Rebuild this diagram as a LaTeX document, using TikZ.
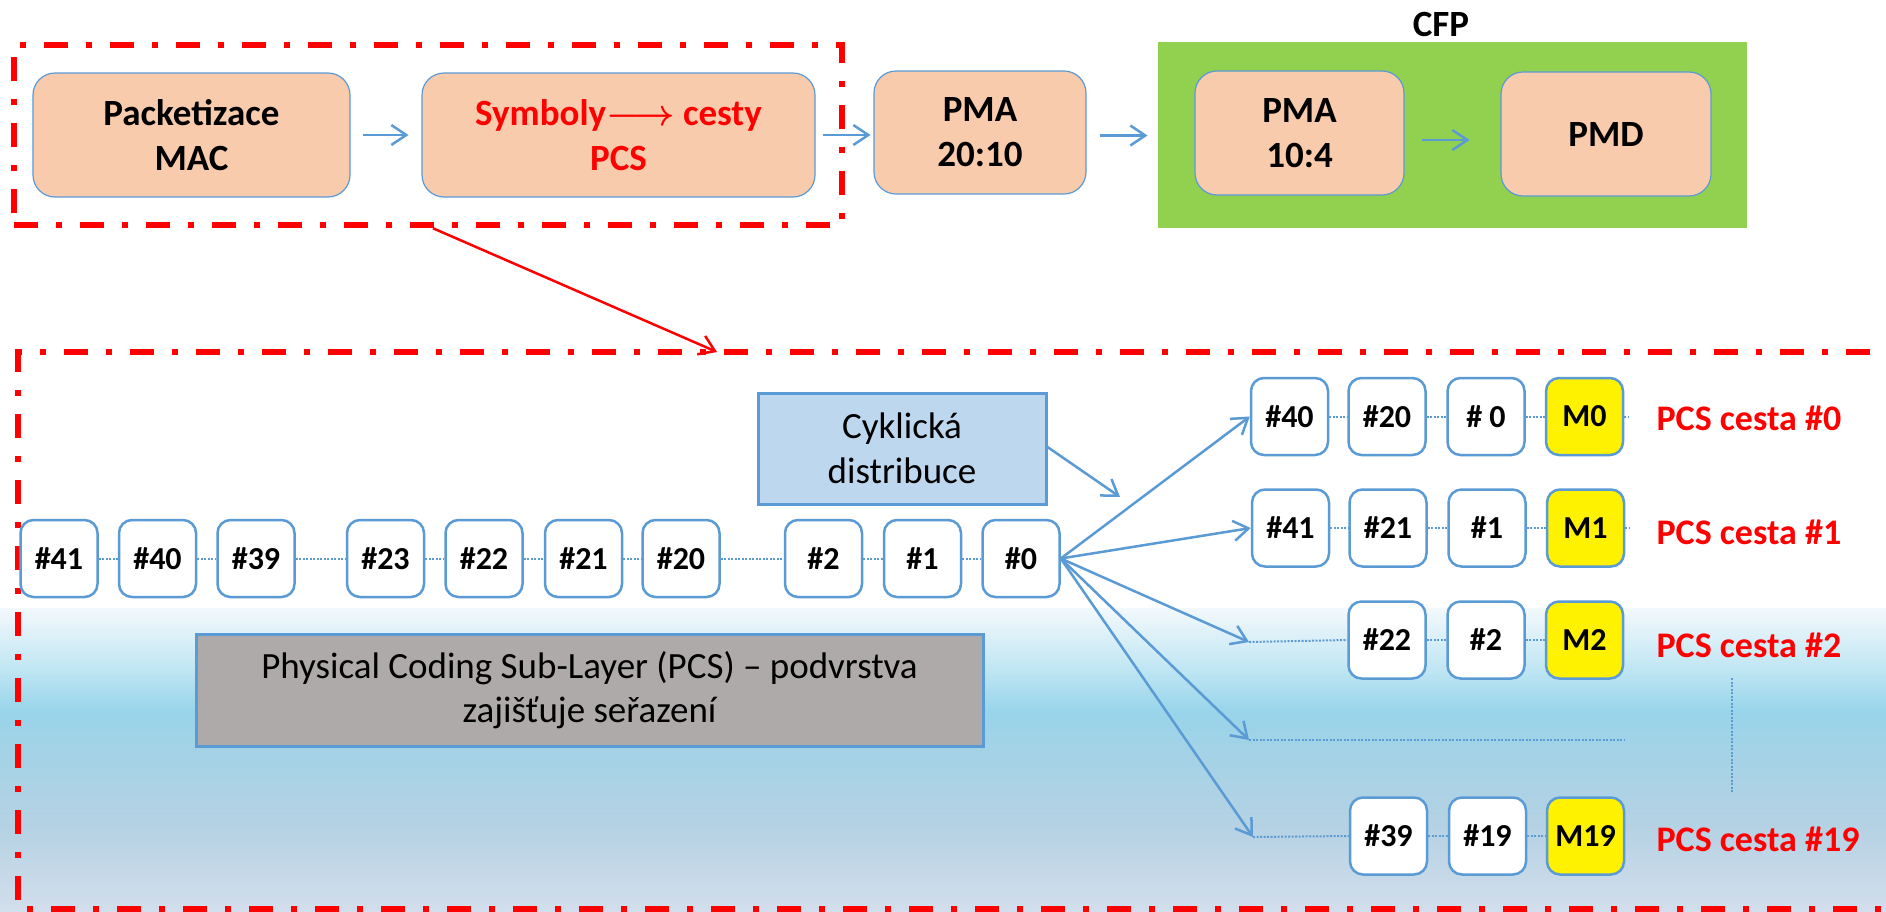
\RequirePackage{fix-cm}
\documentclass[tikz,border=0pt]{standalone}
\usepackage{fontspec}
\setmainfont{Carlito}
\usetikzlibrary{arrows.meta}
\definecolor{boxblue}{RGB}{91,155,213}
\definecolor{peach}{RGB}{248,203,173}
\definecolor{cfpgreen}{RGB}{146,208,80}
\definecolor{cykblue}{RGB}{189,215,238}
\definecolor{pcsgray}{RGB}{174,170,170}
\definecolor{seaA}{RGB}{242,249,252}
\definecolor{seaB}{RGB}{226,242,249}
\definecolor{seaC}{RGB}{192,230,243}
\definecolor{seaD}{RGB}{152,212,234}
\definecolor{seaE}{RGB}{166,210,230}
\definecolor{seaF}{RGB}{182,210,228}
\definecolor{seaG}{RGB}{210,222,235}
\pgfdeclareverticalshading{sea}{100bp}{color(0bp)=(seaG); color(25bp)=(seaG); color(38.5bp)=(seaF); color(50bp)=(seaE); color(58bp)=(seaD); color(65bp)=(seaC); color(71.5bp)=(seaB); color(75bp)=(seaA); color(100bp)=(seaA)}
\tikzset{
  flow/.style={draw=boxblue, line width=2.5pt, -{Straight Barb[length=15pt,width=20pt]}},
  redarrow/.style={draw=red, line width=2.5pt, -{Straight Barb[length=15pt,width=20pt]}},
  reddash/.style={draw=red, line width=6.5pt, dash pattern=on 24pt off 18pt on 6pt off 18pt},
  dotl/.style={draw=boxblue, line width=2pt, dash pattern=on 2pt off 1.5pt},
  pbox/.style={draw=boxblue, line width=1.2pt, fill=peach, rounded corners=22pt,
    font=\bfseries\fontsize{37}{45}\selectfont, align=center, inner sep=0pt, minimum height=124pt},
  sbox/.style={draw=boxblue, line width=2.5pt, fill=white, rounded corners=13pt,
    minimum width=77pt, minimum height=77pt, inner sep=0pt, font=\bfseries\fontsize{32}{36}\selectfont},
  mbox/.style={sbox, fill=yellow},
  lbl/.style={anchor=west, text=red, font=\bfseries\fontsize{36}{40}\selectfont},
}
\begin{document}
\begin{tikzpicture}[x=1pt, y=-1pt]
\useasboundingbox (0,0) rectangle (1886,911);
\fill[white] (0,0) rectangle (1886,911);
\begin{scope}[y=1pt]
  \shade[shading=sea] (0,-911) rectangle (1886,-608);
\end{scope}

% ---------- top row ----------
\node[fill=cfpgreen, minimum width=589pt, minimum height=186pt, inner sep=0pt] (cfp) at (1452.5,135) {};
\node[font=\bfseries\fontsize{37}{40}\selectfont] (cfplbl) at (1441,24) {CFP};
\node[pbox, minimum width=317pt] (mac) at (191.5,135) {Packetizace\\MAC};
\node[pbox, minimum width=393pt, text=red] (pcs) at (618.5,135) {Symboly{\boldmath$\longrightarrow$} cesty\\PCS};
\node[pbox, minimum width=212pt, minimum height=123pt] (pma1) at (980,132.5) {PMA\\20:10};
\node[pbox, minimum width=209pt] (pma2) at (1299.5,133) {PMA\\10:4};
\node[pbox, minimum width=210pt] (pmd) at (1606,134) {PMD};
\node[reddash, minimum width=828pt, minimum height=180pt, inner sep=0pt] (sel) at (428,135) {};

\draw[flow] ([xshift=12pt]mac.east) -- ++(46,0);
\draw[flow] ([xshift=7pt]pcs.east) -- ++(48,0);
\draw[flow] ([shift={(13,3)}]pma1.east) -- ++(48,0);
\draw[flow] ([shift={(17,7)}]pma2.east) -- ++(48,0);

% ---------- lower frame ----------
\coordinate (lowtop) at (717,352);
\draw[reddash] (1870,352) -- (18,352) -- (18,909) -- (1886,909);
\draw[redarrow] ([xshift=5pt]sel.south) -- (lowtop);

% ---------- info boxes ----------
\node[draw=boxblue, line width=3pt, fill=cykblue, minimum width=288pt, minimum height=111pt,
  inner sep=0pt, align=center, font=\fontsize{37}{45}\selectfont] (cyk) at (902,448.5) {Cyklická\\distribuce};
\coordinate (cykend) at (1120,497);
\draw[flow] ([yshift=1.5pt]cyk.east) -- (cykend);

\node[draw=boxblue, line width=3pt, fill=pcsgray, minimum width=787pt, minimum height=112pt,
  inner sep=0pt, align=center, font=\fontsize{37}{44}\selectfont] (pcsl) at (589.5,690)
  {Physical Coding Sub-Layer (PCS) – podvrstva\\zajišťuje seřazení};

% ---------- input symbol stream ----------
\foreach \n/\x in {41/59, 40/157.5, 39/256, 23/385.5, 22/484, 21/583.5, 20/681, 2/823.5, 1/922.5, 0/1021}
  \node[sbox] (b\n) at (\x,558.5) {\#\n};
\foreach \a/\b in {41/40, 40/39, 39/23, 23/22, 22/21, 21/20, 20/2, 2/1, 1/0}
  \draw[dotl] (b\a.east) -- (b\b.west);

% ---------- PCS lanes ----------
\node[sbox] (r0a) at (1289.5,416.5) {\#40};
\node[sbox] (r0b) at (1387,416.5) {\#20};
\node[sbox] (r0c) at (1486,416.5) {\# 0};
\node[mbox] (r0m) at (1584.5,416.5) {M0};
\node[sbox] (r1a) at (1290.5,528) {\#41};
\node[sbox] (r1b) at (1388,528) {\#21};
\node[sbox] (r1c) at (1487,528) {\#1};
\node[mbox] (r1m) at (1585.5,528) {M1};
\node[sbox] (r2b) at (1387,640) {\#22};
\node[sbox] (r2c) at (1486,640) {\#2};
\node[mbox] (r2m) at (1584.5,640) {M2};
\node[sbox] (r19b) at (1388.5,836) {\#39};
\node[sbox] (r19c) at (1487.5,836) {\#19};
\node[mbox] (r19m) at (1585.5,836) {M19};

\node[lbl] (l0) at (1653,418) {PCS cesta \#0};
\node[lbl] (l1) at (1653,532) {PCS cesta \#1};
\node[lbl] (l2) at (1653,645) {PCS cesta \#2};
\node[lbl] (l19) at (1653,839) {PCS cesta \#19};

\foreach \r in {0,1} {
  \draw[dotl] (r\r a.east) -- (r\r b.west);
  \draw[dotl] (r\r b.east) -- (r\r c.west);
  \draw[dotl] (r\r c.east) -- (r\r m.west);
  \draw[dotl] (r\r m.east) -- ++(4,0);
}
\draw[dotl] (r2b.east) -- (r2c.west);
\draw[dotl] (r2c.east) -- (r2m.west);
\draw[dotl] (r19b.east) -- (r19c.west);
\draw[dotl] (r19c.east) -- (r19m.west);

\coordinate (r2in) at (1249,642);
\coordinate (rdin) at (1249,740);
\coordinate (rdend) at (1624,740);
\coordinate (r19in) at (1253,837);
\coordinate (vdtop) at (1732,678);
\coordinate (vdbot) at (1732,793);
\draw[dotl] (r2in) -- (r2b.west);
\draw[dotl] (rdin) -- (rdend);
\draw[dotl] (r19in) -- (r19b.west);
\draw[dotl] (vdtop) -- (vdbot);

\draw[flow] (b0.east) -- (r0a.west);
\draw[flow] (b0.east) -- (r1a.west);
\draw[flow] (b0.east) -- (r2in);
\draw[flow] (b0.east) -- (rdin);
\draw[flow] (b0.east) -- (r19in);
\end{tikzpicture}
\end{document}
